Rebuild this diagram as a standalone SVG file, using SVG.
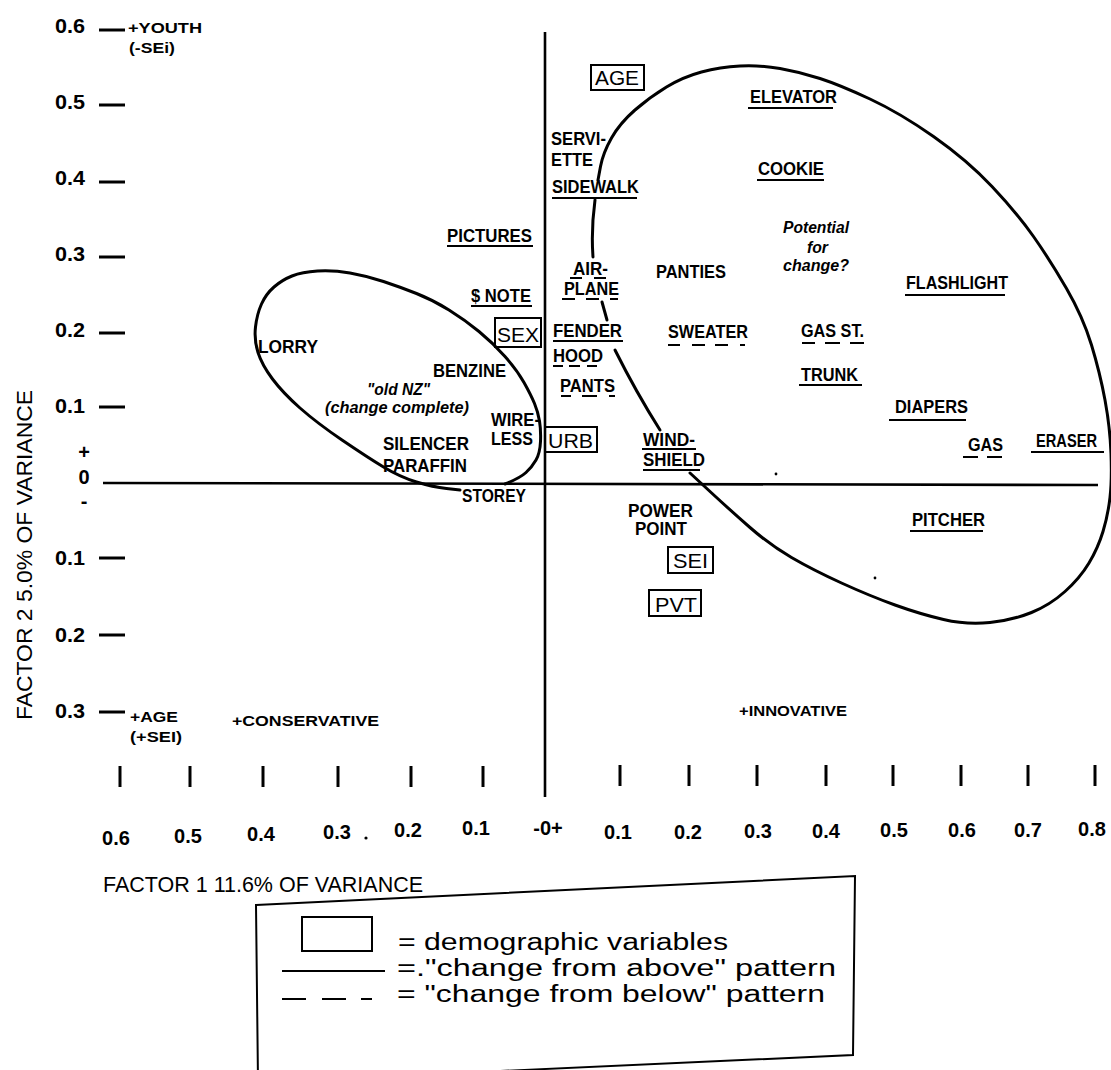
<svg xmlns="http://www.w3.org/2000/svg" width="1111" height="1070" viewBox="0 0 1111 1070">
<style>
text{font-family:"Liberation Sans",Arial,Helvetica,sans-serif;fill:#000}
.lb{font-weight:bold;font-size:18px}
.it{font-style:italic;font-weight:bold;font-size:16px}
.num{font-weight:bold;font-size:20px}
.sm{font-weight:bold;font-size:15px}
.bx{font-size:21px}
.ttl{font-size:22px}
.lg{font-size:23px}
.box{fill:none;stroke:#000;stroke-width:2}
.ul{stroke:#000;stroke-width:2;fill:none}
.tk{stroke:#000;stroke-width:3}
.cv{fill:none;stroke:#000;stroke-width:3;stroke-linecap:round;stroke-linejoin:round}
.ax{stroke:#000;stroke-width:2.6}
</style>
<rect x="0" y="0" width="1111" height="1070" fill="#fff"/>

<g id="axes">
<line class="ax" x1="103" y1="483" x2="1098" y2="485"/>
<line class="ax" x1="545" y1="32" x2="545" y2="797"/>
</g>

<g id="y-axis">
<g class="tk">
<line x1="99" y1="30" x2="125" y2="30"/>
<line x1="99" y1="105" x2="125" y2="105"/>
<line x1="99" y1="182" x2="125" y2="182"/>
<line x1="99" y1="257" x2="125" y2="257"/>
<line x1="99" y1="333" x2="125" y2="333"/>
<line x1="99" y1="407" x2="125" y2="407"/>
<line x1="99" y1="558" x2="125" y2="558"/>
<line x1="99" y1="635" x2="125" y2="635"/>
<line x1="99" y1="712" x2="125" y2="712"/>
</g>
<text class="num" x="55" y="33" textLength="30" lengthAdjust="spacingAndGlyphs">0.6</text>
<text class="num" x="55" y="109" textLength="30" lengthAdjust="spacingAndGlyphs">0.5</text>
<text class="num" x="55" y="185" textLength="30" lengthAdjust="spacingAndGlyphs">0.4</text>
<text class="num" x="55" y="261" textLength="30" lengthAdjust="spacingAndGlyphs">0.3</text>
<text class="num" x="55" y="337" textLength="30" lengthAdjust="spacingAndGlyphs">0.2</text>
<text class="num" x="55" y="413" textLength="30" lengthAdjust="spacingAndGlyphs">0.1</text>
<text class="num" x="84" y="459" text-anchor="middle">+</text>
<text class="num" x="84" y="484" text-anchor="middle">0</text>
<text class="num" x="84" y="508" text-anchor="middle">-</text>
<text class="num" x="55" y="565" textLength="30" lengthAdjust="spacingAndGlyphs">0.1</text>
<text class="num" x="55" y="642" textLength="30" lengthAdjust="spacingAndGlyphs">0.2</text>
<text class="num" x="55" y="718" textLength="30" lengthAdjust="spacingAndGlyphs">0.3</text>
<text class="sm" x="128" y="33" textLength="74" lengthAdjust="spacingAndGlyphs">+YOUTH</text>
<text class="sm" x="129" y="53" textLength="46" lengthAdjust="spacingAndGlyphs">(-SEi)</text>
<text class="sm" x="130" y="722" textLength="48" lengthAdjust="spacingAndGlyphs">+AGE</text>
<text class="sm" x="130" y="742" textLength="52" lengthAdjust="spacingAndGlyphs">(+SEI)</text>
<text class="ttl" transform="translate(32,720) rotate(-90)" textLength="330" lengthAdjust="spacingAndGlyphs">FACTOR 2 5.0% OF VARIANCE</text>
</g>

<g id="x-axis">
<g class="tk">
<line x1="120" y1="766" x2="120" y2="787"/>
<line x1="190" y1="766" x2="190" y2="787"/>
<line x1="263" y1="766" x2="263" y2="787"/>
<line x1="338" y1="766" x2="338" y2="787"/>
<line x1="411" y1="766" x2="411" y2="787"/>
<line x1="483" y1="766" x2="483" y2="787"/>
<line x1="620" y1="765" x2="620" y2="786"/>
<line x1="689" y1="765" x2="689" y2="786"/>
<line x1="757" y1="765" x2="757" y2="786"/>
<line x1="826" y1="765" x2="826" y2="786"/>
<line x1="893" y1="765" x2="893" y2="786"/>
<line x1="961" y1="765" x2="961" y2="786"/>
<line x1="1028" y1="765" x2="1028" y2="786"/>
<line x1="1095" y1="765" x2="1095" y2="786"/>
</g>
<g class="num" text-anchor="middle">
<text x="116" y="845">0.6</text>
<text x="188" y="843">0.5</text>
<text x="261" y="841">0.4</text>
<text x="337" y="839">0.3</text>
<text x="408" y="837">0.2</text>
<text x="476" y="835">0.1</text>
<text x="548" y="835">-0+</text>
<text x="618" y="839">0.1</text>
<text x="688" y="839">0.2</text>
<text x="758" y="838">0.3</text>
<text x="826" y="838">0.4</text>
<text x="894" y="837">0.5</text>
<text x="962" y="837">0.6</text>
<text x="1028" y="837">0.7</text>
<text x="1092" y="836">0.8</text>
</g>
<text class="ttl" x="103" y="892" textLength="320" lengthAdjust="spacingAndGlyphs">FACTOR 1 11.6% OF VARIANCE</text>
<text class="sm" x="232" y="726" textLength="147" lengthAdjust="spacingAndGlyphs">+CONSERVATIVE</text>
<text class="sm" x="739" y="716" textLength="108" lengthAdjust="spacingAndGlyphs">+INNOVATIVE</text>
</g>

<g id="specks" fill="#000">
<circle cx="366" cy="838" r="1.6"/>
<circle cx="776" cy="474" r="1.4"/>
<circle cx="875" cy="578" r="1.4"/>
</g>

<g id="connectors">
<path id="old-nz-ellipse" class="cv" d="M460,490 L446.5,488.5 Q433,487 416.5,482 Q400,477 383.5,467 Q367,457 342,440 Q317,423 300,408 Q283,393 272.5,379 Q262,365 258,352.5 Q254,340 255.5,327 Q257,314 261.5,304 Q266,294 274,287 Q282,280 292,276 Q302,272 317.5,271 Q333,270 350,273 Q367,276 383.5,281.5 Q400,287 416.5,293.5 Q433,300 449,310 Q465,320 479,331.5 Q493,343 505,356.5 Q517,370 524,382.5 Q531,395 534.5,403.5 Q538,412 539.5,421 Q541,430 540.5,441.5 Q540,453 536,460 Q532,467 526,472.5 Q520,478 505,484"/>
<path id="change-ellipse" class="cv" d="M598,180 L600.5,166.5 Q603,153 611.5,138 Q620,123 635,110 Q650,97 666.5,87 Q683,77 701.5,72 Q720,67 740,66 Q760,65 780,68.5 Q800,72 820,78.5 Q840,85 870,99 Q900,113 933.5,136.5 Q967,160 992,186.5 Q1017,213 1033.5,236.5 Q1050,260 1066.5,288.5 Q1083,317 1091.5,345 Q1100,373 1105,400 Q1110,427 1111,453.5 Q1112,480 1110,497.5 Q1108,515 1103,531.5 Q1098,548 1089,563 Q1080,578 1065,591.5 Q1050,605 1031.5,612.5 Q1013,620 990,622.5 Q967,625 943.5,619.5 Q920,614 895,605 Q870,596 841.5,583 Q813,570 791.5,557.5 Q770,545 750,527.5 Q730,510 710,491.5 L690,473"/>
<path class="cv" d="M595,200 Q591,230 593,257"/>
<path class="cv" d="M602,302 L607,320"/>
<path class="cv" d="M615,350 Q636,392 660,430"/>
</g>

<g id="demographic-boxes">
<g id="n-age"><rect class="box" x="591" y="65" width="53" height="25"/><text class="bx" x="595" y="85" textLength="44" lengthAdjust="spacingAndGlyphs">AGE</text></g>
<g id="n-sex"><rect class="box" x="495" y="318" width="46" height="29"/><text class="bx" x="497" y="342" textLength="42" lengthAdjust="spacingAndGlyphs">SEX</text></g>
<g id="n-urb"><rect class="box" x="545" y="427" width="52" height="25"/><text class="bx" x="548" y="448" textLength="45" lengthAdjust="spacingAndGlyphs">URB</text></g>
<g id="n-sei"><rect class="box" x="668" y="547" width="45" height="26"/><text class="bx" x="673" y="568" textLength="35" lengthAdjust="spacingAndGlyphs">SEI</text></g>
<g id="n-pvt"><rect class="box" x="649" y="590" width="52" height="26"/><text class="bx" x="655" y="612" textLength="42" lengthAdjust="spacingAndGlyphs">PVT</text></g>
</g>

<g id="labels" class="lb">
<g id="n-serviette"><text x="551" y="145" textLength="55" lengthAdjust="spacingAndGlyphs">SERVI-</text><text x="551" y="166" textLength="42" lengthAdjust="spacingAndGlyphs">ETTE</text></g>
<g id="n-sidewalk"><text x="552" y="193" textLength="87" lengthAdjust="spacingAndGlyphs">SIDEWALK</text><line class="ul" x1="552" y1="198" x2="637" y2="198"/></g>
<g id="n-pictures"><text x="447" y="242" textLength="85" lengthAdjust="spacingAndGlyphs">PICTURES</text><line class="ul" x1="447" y1="246" x2="533" y2="246"/></g>
<g id="n-airplane"><text x="573" y="275" textLength="35" lengthAdjust="spacingAndGlyphs">AIR-</text><text x="564" y="295" textLength="55" lengthAdjust="spacingAndGlyphs">PLANE</text>
<path class="ul" d="M570,278H582M594,278H606M562,299H575M586,299H599M610,299H618"/></g>
<g id="n-note"><text x="471" y="302" textLength="60" lengthAdjust="spacingAndGlyphs">$ NOTE</text><line class="ul" x1="471" y1="306" x2="532" y2="306"/></g>
<g id="n-panties"><text x="656" y="278" textLength="70" lengthAdjust="spacingAndGlyphs">PANTIES</text></g>
<g id="n-elevator"><text x="750" y="103" textLength="87" lengthAdjust="spacingAndGlyphs">ELEVATOR</text><line class="ul" x1="748" y1="108" x2="833" y2="108"/></g>
<g id="n-cookie"><text x="758" y="175" textLength="66" lengthAdjust="spacingAndGlyphs">COOKIE</text><line class="ul" x1="757" y1="180" x2="824" y2="180"/></g>
<g id="n-potential" class="it"><text x="783" y="233" textLength="66" lengthAdjust="spacingAndGlyphs">Potential</text><text x="807" y="253" textLength="21" lengthAdjust="spacingAndGlyphs">for</text><text x="783" y="271" textLength="66" lengthAdjust="spacingAndGlyphs">change?</text></g>
<g id="n-flashlight"><text x="906" y="289" textLength="102" lengthAdjust="spacingAndGlyphs">FLASHLIGHT</text><line class="ul" x1="905" y1="295" x2="1005" y2="295"/></g>
<g id="n-sweater"><text x="668" y="338" textLength="80" lengthAdjust="spacingAndGlyphs">SWEATER</text><path class="ul" d="M668,345H680M692,345H705M715,345H728M740,345H745"/></g>
<g id="n-gasst"><text x="801" y="337" textLength="63" lengthAdjust="spacingAndGlyphs">GAS ST.</text><path class="ul" d="M802,343H815M825,343H840M850,343H864"/></g>
<g id="n-trunk"><text x="801" y="381" textLength="57" lengthAdjust="spacingAndGlyphs">TRUNK</text><line class="ul" x1="799" y1="385" x2="862" y2="385"/></g>
<g id="n-diapers"><text x="895" y="413" textLength="73" lengthAdjust="spacingAndGlyphs">DIAPERS</text><line class="ul" x1="889" y1="420" x2="966" y2="420"/></g>
<g id="n-windshield"><text x="643" y="446" textLength="52" lengthAdjust="spacingAndGlyphs">WIND-</text><line class="ul" x1="642" y1="449" x2="696" y2="449"/><text x="643" y="466" textLength="62" lengthAdjust="spacingAndGlyphs">SHIELD</text><line class="ul" x1="643" y1="470" x2="700" y2="470"/></g>
<g id="n-gas"><text x="968" y="451" textLength="35" lengthAdjust="spacingAndGlyphs">GAS</text><path class="ul" d="M963,457H978M987,457H1002"/></g>
<g id="n-eraser"><text x="1036" y="447" textLength="61" lengthAdjust="spacingAndGlyphs">ERASER</text><line class="ul" x1="1031" y1="452" x2="1104" y2="452"/></g>
<g id="n-powerpoint"><text x="628" y="517" textLength="65" lengthAdjust="spacingAndGlyphs">POWER</text><text x="635" y="535" textLength="52" lengthAdjust="spacingAndGlyphs">POINT</text></g>
<g id="n-pitcher"><text x="912" y="526" textLength="73" lengthAdjust="spacingAndGlyphs">PITCHER</text><line class="ul" x1="910" y1="531" x2="983" y2="531"/></g>
<g id="n-lorry"><text x="258" y="353" textLength="60" lengthAdjust="spacingAndGlyphs">LORRY</text></g>
<g id="n-benzine"><text x="433" y="377" textLength="73" lengthAdjust="spacingAndGlyphs">BENZINE</text></g>
<g id="n-oldnz" class="it"><text x="367" y="395" textLength="63" lengthAdjust="spacingAndGlyphs">"old NZ"</text><text x="325" y="413" textLength="144" lengthAdjust="spacingAndGlyphs">(change complete)</text></g>
<g id="n-wireless"><text x="491" y="426" textLength="49" lengthAdjust="spacingAndGlyphs">WIRE-</text><text x="491" y="445" textLength="42" lengthAdjust="spacingAndGlyphs">LESS</text></g>
<g id="n-silencer"><text x="383" y="450" textLength="86" lengthAdjust="spacingAndGlyphs">SILENCER</text></g>
<g id="n-paraffin"><text x="383" y="472" textLength="84" lengthAdjust="spacingAndGlyphs">PARAFFIN</text></g>
<g id="n-storey"><text x="462" y="502" textLength="64" lengthAdjust="spacingAndGlyphs">STOREY</text></g>
<g id="n-fender"><text x="553" y="337" textLength="69" lengthAdjust="spacingAndGlyphs">FENDER</text><line class="ul" x1="553" y1="341" x2="623" y2="341"/></g>
<g id="n-hood"><text x="553" y="362" textLength="50" lengthAdjust="spacingAndGlyphs">HOOD</text><path class="ul" d="M553,366H563M569,366H580M587,366H597"/></g>
<g id="n-pants"><text x="560" y="392" textLength="55" lengthAdjust="spacingAndGlyphs">PANTS</text><path class="ul" d="M561,396H571M582,396H597M609,396H615"/></g>
</g>

<g id="legend">
<polygon class="box" points="256,905 855,876 853,1055 258,1082"/>
<rect class="box" x="302" y="917" width="70" height="34"/>
<text class="lg" x="398" y="950" textLength="330" lengthAdjust="spacingAndGlyphs">= demographic variables</text>
<line class="ul" x1="282" y1="971" x2="385" y2="971"/>
<text class="lg" x="397" y="976" textLength="439" lengthAdjust="spacingAndGlyphs">=."change from above" pattern</text>
<path class="ul" d="M282,999H306M322,999H346M361,999H372"/>
<text class="lg" x="397" y="1002" textLength="428" lengthAdjust="spacingAndGlyphs">= "change from below" pattern</text>
</g>
</svg>
